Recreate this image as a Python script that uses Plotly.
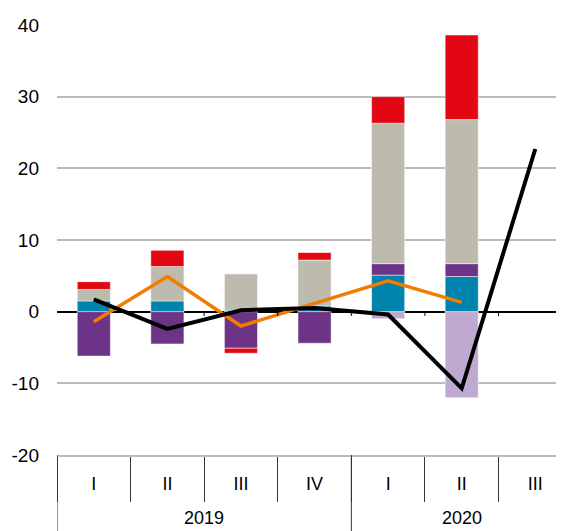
import plotly.graph_objects as go

years = ["2019", "2020"]
year_spans = [4, 3]
quarters = ["I", "II", "III", "IV", "I", "II", "III"]

blue = [1.5, 1.5, 0.2, 0.8, 5.1, 4.9, None]
purple = [-6.2, -4.5, -5.1, -4.4, 1.6, 1.8, None]
grey = [1.6, 4.8, 5.1, 6.4, 19.6, 20.1, None]
red = [1.1, 2.3, -0.7, 1.1, 3.7, 11.8, None]
light_purple = [0, 0, 0, 0, -1.0, -12.0, None]
black_line = [1.7, -2.4, 0.2, 0.5, -0.4, -10.7, 22.7]
orange_line = [-1.4, 4.9, -2.0, 1.1, 4.3, 1.3, None]

y_ticks = [-20, -10, 0, 10, 20, 30, 40]
y_tick_text = ["-20", "-10", "0", "10", "20", "30", "40"]

FONT = "Liberation Sans Narrow, Arial Narrow, Liberation Sans, Arial, sans-serif"
W, H = 556, 523
M_L, M_T, M_B = 49, 17, 76
PLOT_H = H - M_T - M_B

xpos = list(range(len(quarters)))

fig = go.Figure()
edge = dict(color="rgba(255,255,255,0.5)", width=1)
for vals, col in [(blue, "#0083AD"), (purple, "#6C3387"), (grey, "#BDBBAD"),
                  (red, "#E30613"), (light_purple, "#C0A9D0")]:
    fig.add_trace(go.Bar(x=xpos, y=vals, marker=dict(color=col, line=edge), width=0.45))

fig.add_trace(go.Scatter(x=xpos, y=orange_line, mode="lines",
                         line=dict(color="#F07D00", width=3.5)))
fig.add_trace(go.Scatter(x=xpos, y=black_line, mode="lines",
                         line=dict(color="#000000", width=4)))

boundaries = [i - 0.5 for i in range(len(quarters) + 1)]

# small ticks on the zero line at category boundaries
for b in boundaries[1:-1]:
    fig.add_shape(type="line", xref="x", yref="y", x0=b, x1=b,
                  y0=0, y1=-0.6, line=dict(color="#000000", width=1))

# year dividers and year labels
start = 0
for yr, span in zip(years, year_spans):
    b = start - 0.5
    fig.add_shape(type="line", xref="x", yref="paper", x0=b, x1=b,
                  y0=0, y1=-M_B / PLOT_H, line=dict(color="#333333", width=1))
    fig.add_annotation(x=start + (span - 1) / 2, y=-63 / PLOT_H,
                       xref="x", yref="paper", text=yr, showarrow=False,
                       yanchor="middle", font=dict(size=18))
    start += span

fig.update_layout(
    width=W, height=H,
    margin=dict(l=M_L, r=0, t=M_T, b=M_B),
    barmode="relative",
    showlegend=False,
    plot_bgcolor="white", paper_bgcolor="white",
    font=dict(family=FONT, size=19, color="#000000"),
    xaxis=dict(
        range=[-0.5, 6.39],
        automargin=False,
        showgrid=False, zeroline=False,
        showline=True, linecolor="#BBBBBB", linewidth=1.5,
        tickvals=xpos, ticktext=quarters, ticks="",
        ticklabelstandoff=12,
        tickfont=dict(size=18),
        minor=dict(tickvals=boundaries, ticks="outside", ticklen=45,
                   tickcolor="#333333", tickwidth=1, showgrid=False),
    ),
    yaxis=dict(
        range=[-20, 40],
        automargin=False,
        tickvals=y_ticks, ticktext=y_tick_text,
        showgrid=True, gridcolor="#BBBBBB", gridwidth=1.5,
        zeroline=True, zerolinecolor="#000000", zerolinewidth=1.5,
        ticks="", ticklabelstandoff=17,
    ),
)

fig.write_html("out.html")
